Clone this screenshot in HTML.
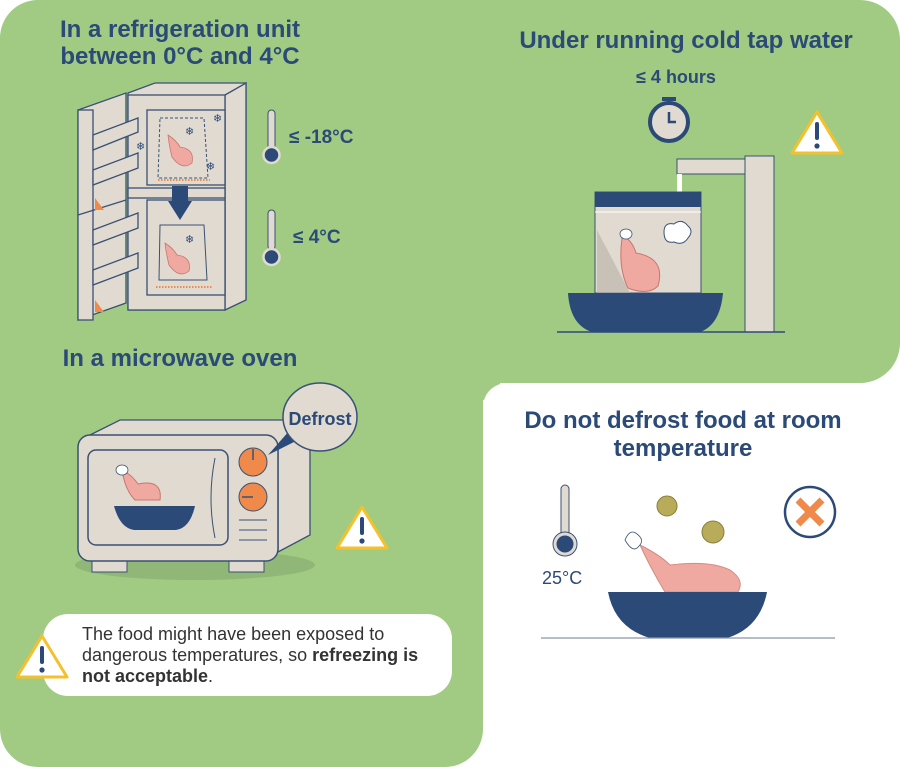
<!DOCTYPE html>
<html><head><meta charset="utf-8"><style>
html,body{margin:0;padding:0;background:#fff;}
svg{display:block;}
text{font-family:"Liberation Sans",sans-serif;}
</style></head><body>
<svg width="900" height="767" viewBox="0 0 900 767" xmlns="http://www.w3.org/2000/svg">
<rect x="0" y="0" width="483" height="767" rx="38" fill="#a1cb83"/>
<rect x="0" y="0" width="900" height="383" rx="40" fill="#a1cb83"/>
<rect x="440" y="340" width="60" height="60" fill="#a1cb83"/>
<rect x="483" y="383" width="417" height="384" rx="24" fill="#fff"/>
<rect x="483" y="420" width="30" height="347" fill="#fff"/>
<rect x="520" y="383" width="380" height="40" fill="#fff"/>

<g fill="#2b4a78" font-weight="bold" font-size="24" text-anchor="middle">
<text x="180" y="37">In a refrigeration unit</text>
<text x="180" y="64">between 0°C and 4°C</text>
<text x="686" y="48">Under running cold tap water</text>
<text x="180" y="366">In a microwave oven</text>
<text x="683" y="428">Do not defrost food at room</text>
<text x="683" y="456">temperature</text>
<text x="676" y="83" font-size="18">≤ 4 hours</text>
</g>

<g stroke="#3a5175" stroke-width="1.3" fill="#e0dad0">
<polygon points="128,93 155,83 246,83 246,300 225,310 128,310"/>
<polygon points="225,95 246,83 246,300 225,310"/>
<rect x="128" y="95" width="97" height="215"/>
<rect x="147" y="110" width="78" height="75"/>
<rect x="147" y="200" width="78" height="95"/>
<rect x="128" y="188" width="97" height="10"/>
<polygon points="78,110 126,93 126,303 78,320"/>
<rect x="78" y="110" width="15" height="210"/>
<polygon points="93,135 138,118 138,132 93,150"/>
<polygon points="93,170 138,153 138,168 93,185"/>
<polygon points="93,230 138,213 138,228 93,245"/>
<polygon points="93,270 138,253 138,268 93,285"/>
<line x1="78" y1="215" x2="126" y2="200"/>
</g>
<g fill="none" stroke="#3a5175" stroke-width="1" stroke-dasharray="3,2">
<path d="M160,118 h44 l4,60 h-50z"/>
</g>
<path d="M158,180 h52" stroke="#f08a4b" stroke-width="2" stroke-dasharray="1.5,1.5"/>
<path d="M156,287 h56" stroke="#f08a4b" stroke-width="2" stroke-dasharray="1.5,1.5"/>
<rect x="172" y="186" width="16" height="16" fill="#2b4a78"/>
<polygon points="168,201 192,201 180,220" fill="#2b4a78"/>
<path d="M160,225 h44 l3,55 h-48z" fill="#e0dad0" stroke="#3a5175" stroke-width="1"/>
<g fill="#f0a9a0" stroke="#c9766e" stroke-width="0.8">
<path d="M168,135 q8,5 12,12 q15,2 12,16 q-10,8 -20,-6 q-3,-12 -4,-22z"/>
<path d="M165,243 q8,5 12,12 q15,2 12,16 q-10,8 -20,-6 q-3,-12 -4,-22z"/>
</g>
<g fill="#f08a4b"><polygon points="95,198 95,210 104,210"/><polygon points="95,300 95,312 104,312"/></g>
<g font-size="11" fill="#2b4a78"><text x="185" y="135">❄</text><text x="136" y="150">❄</text><text x="206" y="170">❄</text><text x="213" y="122">❄</text><text x="185" y="243">❄</text></g>

<rect x="268" y="110" width="7" height="40" rx="3.5" fill="#e0dad0" stroke="#3a5175"/>
<circle cx="271.5" cy="155" r="8" fill="#2b4a78" stroke="#e0dad0" stroke-width="2.5"/>
<rect x="268" y="210" width="7" height="40" rx="3.5" fill="#e0dad0" stroke="#3a5175"/>
<circle cx="271.5" cy="257" r="8" fill="#2b4a78" stroke="#e0dad0" stroke-width="2.5"/>
<g fill="#2b4a78" font-size="19" font-weight="bold">
<text x="289" y="143">≤ -18°C</text>
<text x="293" y="243">≤ 4°C</text>
</g>

<rect x="662" y="97" width="14" height="4" fill="#2b4a78"/>
<rect x="667" y="100" width="4" height="5" fill="#2b4a78"/>
<circle cx="669" cy="122" r="19" fill="#e0dad0" stroke="#2b4a78" stroke-width="4"/>
<path d="M669,112 v10 h7" stroke="#2b4a78" stroke-width="2.5" fill="none"/>
<g>
<path d="M817,112 L842,153 H792 Z" fill="#fff" stroke="#f3c12c" stroke-width="3" stroke-linejoin="round"/>
<rect x="815" y="122" width="4" height="18" rx="2" fill="#2b4a78"/><circle cx="817" cy="146" r="2.6" fill="#2b4a78"/>
</g>
<g transform="translate(-455,395)"><path d="M817,112 L842,153 H792 Z" fill="#fff" stroke="#f3c12c" stroke-width="3" stroke-linejoin="round"/>
<rect x="815" y="122" width="4" height="18" rx="2" fill="#2b4a78"/><circle cx="817" cy="146" r="2.6" fill="#2b4a78"/></g>

<rect x="745" y="156" width="29" height="176" fill="#e0dad0" stroke="#3a5175"/>
<rect x="677" y="159" width="68" height="15" fill="#e0dad0" stroke="#3a5175"/>
<rect x="677" y="174" width="5" height="52" fill="#fff"/>
<rect x="595" y="192" width="106" height="101" fill="#e0dad0" stroke="#3a5175"/>
<rect x="595" y="192" width="106" height="15" fill="#2b4a78"/>
<line x1="595" y1="212" x2="701" y2="212" stroke="#fff"/>
<path d="M597,230 L597,293 L630,293 Z" fill="#b7b0a8" opacity="0.6"/>
<path d="M622,235 q10,5 14,18 q30,5 22,33 q-10,10 -30,2 q-10,-20 -6,-50z" fill="#f0a9a0" stroke="#c9766e"/>
<ellipse cx="626" cy="234" rx="6" ry="5" fill="#fff" stroke="#3a5175" stroke-width="0.8"/>
<path d="M664,232 q0,-10 10,-8 q8,-6 14,2 q6,5 0,12 q-5,8 -14,4 q-10,2 -10,-10z" fill="#fff" stroke="#3a5175"/>
<path d="M568,293 H723 Q720,325 700,332 H592 Q570,325 568,293Z" fill="#2b4a78"/>
<line x1="557" y1="332" x2="785" y2="332" stroke="#2b4a78" stroke-width="1.5"/>

<ellipse cx="195" cy="565" rx="120" ry="15" fill="#7f9f6a" opacity="0.45"/>
<polygon points="90,435 120,420 285,420 310,435 310,535 278,552 278,445" fill="#e0dad0" stroke="#3a5175" stroke-width="1.3"/>
<rect x="92" y="560" width="35" height="12" fill="#e0dad0" stroke="#3a5175"/>
<rect x="229" y="560" width="35" height="12" fill="#e0dad0" stroke="#3a5175"/>
<rect x="78" y="435" width="200" height="126" rx="12" fill="#e0dad0" stroke="#3a5175" stroke-width="1.5"/>
<rect x="88" y="450" width="140" height="95" rx="8" fill="#e0dad0" stroke="#3a5175" stroke-width="1.5"/>
<path d="M215,458 q-8,40 0,80" stroke="#3a5175" fill="none"/>
<path d="M122,470 q10,5 16,14 q25,-5 22,16 h-25 q-10,-10 -13,-30z" fill="#f0a9a0" stroke="#c9766e"/>
<ellipse cx="122" cy="470" rx="6" ry="5" fill="#fff" stroke="#3a5175" stroke-width="0.8"/>
<path d="M114,506 H195 Q190,528 176,530 H134 Q120,528 114,506Z" fill="#2b4a78"/>
<circle cx="253" cy="462" r="14" fill="#f08a4b" stroke="#3a5175"/>
<line x1="253" y1="449" x2="253" y2="460" stroke="#3a5175" stroke-width="1.5"/>
<circle cx="253" cy="497" r="14" fill="#f08a4b" stroke="#3a5175"/>
<line x1="242" y1="497" x2="253" y2="497" stroke="#3a5175" stroke-width="1.5"/>
<g stroke="#3a5175"><line x1="239" y1="520" x2="267" y2="520"/><line x1="239" y1="530" x2="267" y2="530"/><line x1="239" y1="540" x2="267" y2="540"/></g>
<polygon points="268,455 290,430 298,440" fill="#2b4a78"/>
<ellipse cx="320" cy="417" rx="37" ry="34" fill="#e0dad0" stroke="#3a5175" stroke-width="1.5"/>
<text x="320" y="425" text-anchor="middle" font-size="18" font-weight="bold" fill="#2b4a78">Defrost</text>

<rect x="43" y="614" width="409" height="82" rx="25" fill="#fff"/>
<g transform="translate(-775,524)"><path d="M817,112 L842,153 H792 Z" fill="#fff" stroke="#f3c12c" stroke-width="3" stroke-linejoin="round"/>
<rect x="815" y="122" width="4" height="18" rx="2" fill="#2b4a78"/><circle cx="817" cy="146" r="2.6" fill="#2b4a78"/></g>
<g font-size="18" fill="#333">
<text x="82" y="640">The food might have been exposed to</text>
<text x="82" y="661">dangerous temperatures, so <tspan font-weight="bold">refreezing is</tspan></text>
<text x="82" y="682" font-weight="bold">not acceptable<tspan font-weight="normal">.</tspan></text>
</g>

<rect x="561" y="485" width="8" height="52" rx="4" fill="#e0dad0" stroke="#3a5175"/>
<circle cx="565" cy="544" r="10" fill="#2b4a78" stroke="#e0dad0" stroke-width="3"/>
<circle cx="565" cy="544" r="12" fill="none" stroke="#3a5175"/>
<text x="542" y="584" font-size="18" fill="#2b4a78">25°C</text>
<path d="M640,545 q20,10 30,20 q40,-5 60,5 q15,10 8,22 H665 q-15,-25 -25,-47z" fill="#f0a9a0" stroke="#d58b83"/>
<path d="M625,540 q5,-12 12,-6 q8,6 2,12 q-6,8 -14,-6z" fill="#fff" stroke="#3a5175" stroke-width="0.8"/>
<path d="M608,592 H767 Q760,628 727,638 H650 Q615,628 608,592Z" fill="#2b4a78"/>
<line x1="541" y1="638" x2="835" y2="638" stroke="#8a93a8" stroke-width="1.2"/>
<circle cx="667" cy="506" r="10" fill="#b8ac5a" stroke="#8a7f35"/>
<circle cx="713" cy="532" r="11" fill="#b8ac5a" stroke="#8a7f35"/>
<circle cx="810" cy="512" r="25" fill="#fff" stroke="#2b4a78" stroke-width="2.5"/>
<g stroke="#f08a4b" stroke-width="7"><line x1="798" y1="500" x2="822" y2="524"/><line x1="822" y1="500" x2="798" y2="524"/></g>
</svg>
</body></html>
